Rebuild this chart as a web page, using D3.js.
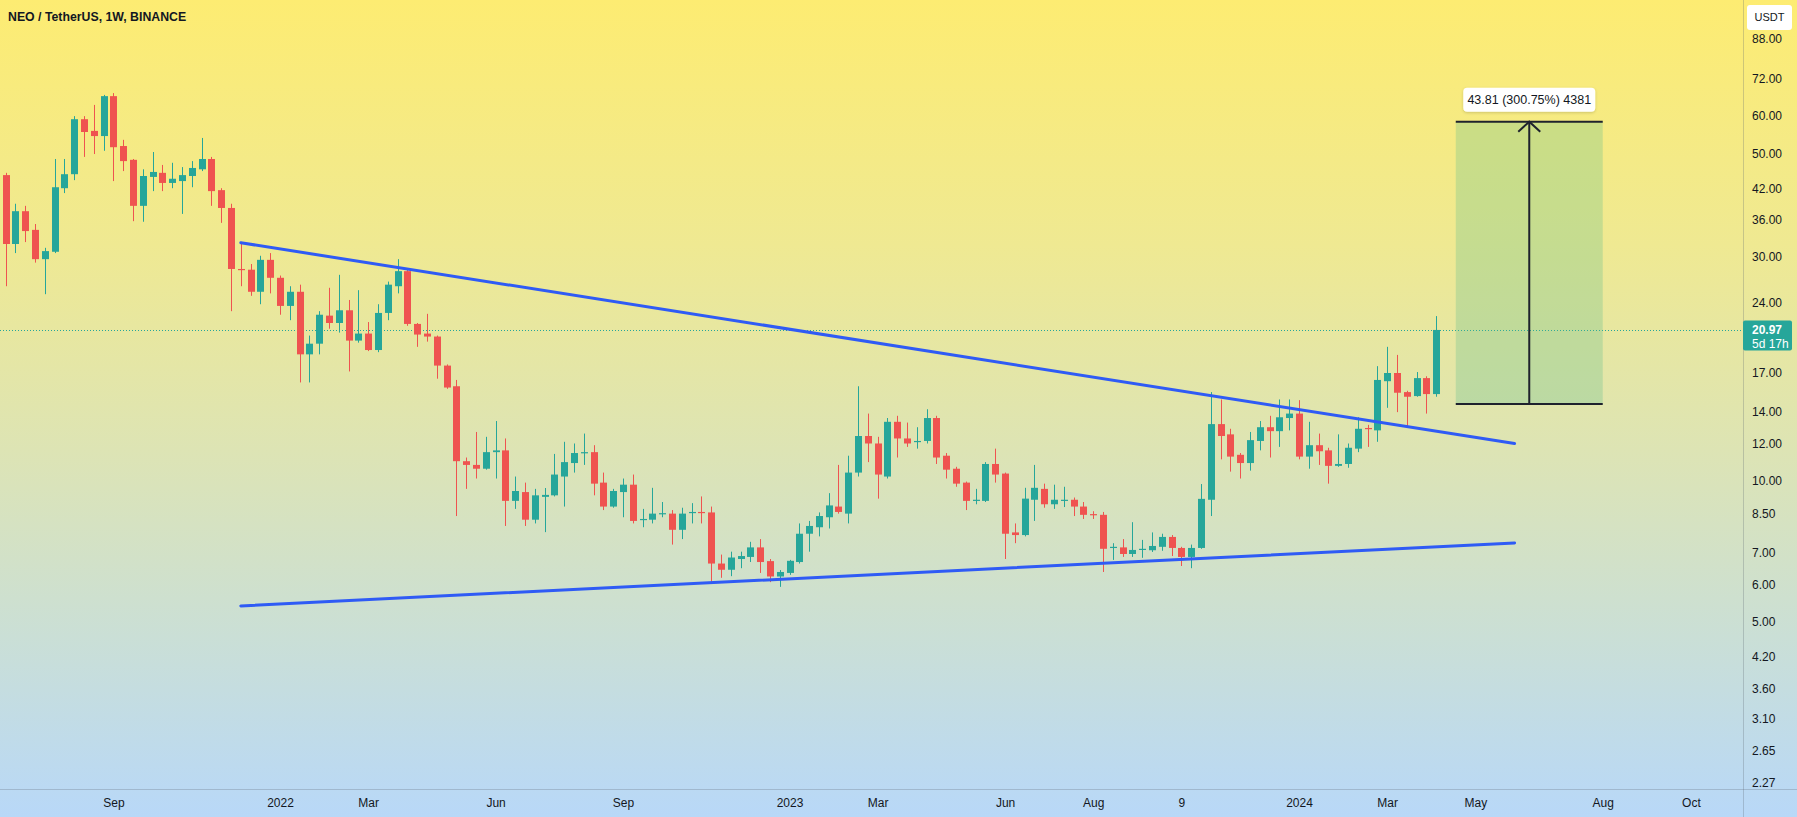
<!DOCTYPE html>
<html><head><meta charset="utf-8">
<script src="https://cdn.jsdelivr.net/npm/d3@7"></script>
<style>html,body{margin:0;padding:0;overflow:hidden;background:#e5e6a6}svg{display:block}</style>
</head><body><svg id="c" width="1797" height="817"></svg>
<script>
// ---- data (weekly NEO/USDT candles, first week 2021-06-21) ----
const firstWeek = "2021-06-21";
const opens = [44.9,32.0,37.6,34.3,29.7,30.8,42.1,45.1,59.1,55.8,
54.4,66.2,51.8,48.4,38.6,44.5,45.4,43.2,43.6,44.7,
46.2,48.6,41.7,38.2,28.3,28.2,25.3,29.6,27.1,23.6,
25.3,18.6,19.6,22.5,21.7,23.1,19.9,20.6,19.0,22.8,
26.0,28.0,21.6,20.6,20.3,17.6,15.9,11.0,10.8,10.6,
11.5,11.6,9.05,9.45,8.25,9.23,9.3,10.2,10.9,11.45,
11.5,9.9,8.8,9.45,9.8,8.24,8.25,8.48,8.5,7.85,
8.52,8.57,8.55,6.65,6.45,6.8,6.87,7.2,6.73,6.24,
6.35,6.7,7.7,7.95,8.35,8.8,8.5,10.4,12.45,12.0,
10.2,13.35,12.3,12.08,12.15,13.6,11.3,10.6,9.9,9.05,
9.05,10.85,10.35,7.75,7.65,9.1,9.6,8.9,9.05,9.1,
8.8,8.48,8.45,7.18,7.2,6.97,7.11,7.1,7.22,7.58,
7.18,6.87,7.18,9.1,13.2,12.55,11.35,10.9,12.15,13.0,
12.75,13.6,13.9,11.25,11.9,11.6,10.75,10.85,11.7,12.95,
12.8,16.3,16.97,15.45,15.15,16.55,15.3];
const highs = [45.4,39.0,38.6,35.3,31.4,48.6,48.6,60.0,60.0,63.4,
66.6,67.2,53.4,48.6,46.2,50.3,47.2,47.7,46.7,48.1,
53.9,49.1,42.1,39.0,32.0,29.0,30.2,30.6,27.4,26.0,
26.2,20.4,23.0,25.8,27.5,24.3,25.5,21.8,23.8,26.6,
29.7,28.2,21.7,22.7,20.4,17.7,16.4,11.2,12.7,12.4,
13.4,12.3,10.2,9.9,9.6,9.64,11.4,12.1,12.0,12.6,
11.9,10.4,9.6,10.1,10.3,8.7,9.65,9.0,8.65,8.75,
8.95,9.25,8.8,6.95,7.05,7.05,7.4,7.5,6.8,6.44,
6.77,8.1,8.2,8.55,9.4,10.8,11.3,15.9,13.9,12.4,
13.6,13.75,13.3,13.0,14.2,13.75,11.45,10.7,9.95,9.6,
10.95,11.7,10.4,8.1,9.65,10.8,9.85,9.8,9.7,9.2,
9.0,8.6,8.57,7.35,7.5,8.15,7.47,7.75,7.7,7.65,
7.22,7.3,9.83,15.45,14.9,12.9,11.45,12.7,13.4,13.75,
14.9,14.9,14.85,13.35,12.6,11.75,12.55,12.0,13.65,13.15,
17.55,19.3,18.55,15.55,17.05,16.7,22.45];
const lows = [26.0,30.6,32.3,29.2,25.0,30.6,41.1,43.8,49.1,49.8,
50.6,43.6,45.8,35.8,35.7,41.5,41.5,42.1,37.1,42.3,
45.8,38.6,35.5,23.0,26.0,24.8,23.8,25.1,22.6,22.0,
16.2,16.2,18.6,21.1,20.7,17.1,19.7,18.9,18.8,22.0,
25.1,21.4,19.3,19.8,16.5,15.7,8.4,9.6,10.1,10.55,
10.1,8.0,8.7,8.0,8.1,7.76,9.25,8.8,10.4,10.8,
9.3,8.65,8.75,8.35,8.1,7.95,8.1,8.35,7.3,7.5,
8.1,8.1,6.05,6.2,6.25,6.5,6.7,6.35,6.07,5.93,
6.29,6.65,7.05,7.6,7.9,8.5,8.1,10.2,10.95,9.15,
10.1,11.2,11.8,11.7,12.0,10.85,10.1,9.7,8.65,8.9,
9.0,9.9,6.8,7.35,7.6,8.2,8.75,8.7,8.78,8.4,
8.28,8.28,6.38,6.77,6.87,6.87,6.84,7.04,7.08,6.9,
6.57,6.5,7.15,8.4,11.1,10.45,10.1,10.5,11.6,11.2,
11.8,12.8,11.1,10.6,10.8,9.85,10.7,10.65,11.5,11.8,
12.1,14.3,14.0,12.95,15.1,13.9,15.1];
const closes = [32.0,37.6,34.1,29.7,30.9,42.3,45.1,59.1,55.5,54.4,
66.2,51.5,48.1,38.6,44.7,45.6,43.2,44.1,44.9,46.5,
48.6,41.5,38.2,28.3,28.2,25.3,29.6,27.1,23.6,25.3,
18.6,19.6,22.6,21.7,23.1,19.9,20.6,19.0,22.8,26.2,
28.0,21.6,20.5,20.3,17.6,15.8,11.0,10.8,10.6,11.5,
11.6,9.05,9.5,8.25,9.3,9.32,10.3,10.95,11.45,11.5,
9.85,8.8,9.5,9.8,8.2,8.28,8.5,8.52,7.85,8.5,
8.57,8.52,6.65,6.45,6.85,6.9,7.2,6.7,6.24,6.38,
6.74,7.7,8.0,8.4,8.85,8.57,10.4,12.45,12.0,10.3,
13.35,12.3,12.0,12.15,13.6,11.2,10.55,9.85,9.05,9.1,
10.85,10.3,7.7,7.65,9.15,9.65,8.9,9.1,9.1,8.8,
8.45,8.44,7.15,7.22,6.97,7.11,7.15,7.25,7.58,7.18,
6.87,7.18,9.14,13.2,12.45,11.25,10.9,12.2,13.0,12.75,
13.65,13.9,11.25,11.9,11.55,10.75,10.85,11.75,12.9,12.88,
16.4,16.97,15.4,15.1,16.55,15.3,20.97];

const yTicks = [88,72,60,50,42,36,30,24,17,14,12,10,8.5,7,6,5,4.2,3.6,3.1,2.65,2.27];
const xTickDates = ["2021-09-06","2022-01-03","2022-03-07","2022-06-06","2022-09-05","2023-01-02","2023-03-06","2023-06-05","2023-08-07","2023-10-09","2024-01-01","2024-03-04","2024-05-06","2024-08-05","2024-10-07"];
const xTickLabels = ["Sep","2022","Mar","Jun","Sep","2023","Mar","Jun","Aug","9","2024","Mar","May","Aug","Oct"];

const upperTrendDates = ["2021-12-06","2024-06-03"];
const upperTrendPrices = [32.2, 12.0];
const lowerTrendDates = ["2021-12-06","2024-06-03"];
const lowerTrendPrices = [5.40, 7.36];

const rangeDates = ["2024-04-22","2024-08-05"];
const rangePrices = [14.567, 58.377];
const rangeLabel = "43.81 (300.75%) 4381";

const lastPrice = 20.97;
const lastPriceCountdown = "5d 17h";
const title = "NEO / TetherUS, 1W, BINANCE";
const currency = "USDT";

// ---- drawing ----
const W=1797, H=817, plotR=1743, plotB=789;
const UP="#26a69a", DOWN="#ef5350", TEXT="#131722";
const FONT="'Liberation Sans', Arial, sans-serif";
const svg=d3.select("#c");
const defs=svg.append("defs");
const grad=defs.append("linearGradient").attr("id","bg").attr("x1",0).attr("y1",0).attr("x2",0).attr("y2",1);
[["0%","#fdec72"],["30%","#efe992"],["55%","#dde4b4"],["78%","#cadfd6"],["100%","#b8d8f8"]].forEach(s=>grad.append("stop").attr("offset",s[0]).attr("stop-color",s[1]));
const sh=defs.append("filter").attr("id","sh").attr("x","-20%").attr("y","-40%").attr("width","140%").attr("height","180%");
sh.append("feDropShadow").attr("dx",0).attr("dy",1).attr("stdDeviation",1.5).attr("flood-color","#000").attr("flood-opacity",0.18);
defs.append("clipPath").attr("id","plot").append("rect").attr("x",0).attr("y",0).attr("width",plotR).attr("height",plotB);

svg.append("rect").attr("width",W).attr("height",H).attr("fill","url(#bg)");

const parse=d3.utcParse("%Y-%m-%d");
const x=d3.scaleUtc().domain([parse("2022-01-03"),parse("2024-01-01")]).range([280,1299]);
const y=d3.scaleLog().domain([2.195,106.2]).range([plotB,0]);

const start=parse(firstWeek);
const dates=d3.utcMonday.range(start, d3.utcMonday.offset(start, opens.length));
const candles=dates.map((d,i)=>({d,o:opens[i],h:highs[i],l:lows[i],c:closes[i]}));

const plot=svg.append("g").attr("clip-path","url(#plot)");

// last price dotted line
plot.append("line").attr("x1",0).attr("x2",plotR)
  .attr("y1",Math.round(y(lastPrice))+0.5).attr("y2",Math.round(y(lastPrice))+0.5)
  .attr("stroke",UP).attr("stroke-width",1).attr("stroke-dasharray","1,2");

// candles
const cg=plot.append("g");
cg.selectAll("line.w").data(candles).join("line").attr("class","w")
  .attr("x1",d=>Math.round(x(d.d))+0.5).attr("x2",d=>Math.round(x(d.d))+0.5)
  .attr("y1",d=>y(d.h)).attr("y2",d=>y(d.l))
  .attr("stroke",d=>d.c>=d.o?UP:DOWN).attr("stroke-width",1);
cg.selectAll("rect.b").data(candles).join("rect").attr("class","b")
  .attr("x",d=>Math.round(x(d.d))-3).attr("width",7)
  .attr("y",d=>y(Math.max(d.o,d.c)))
  .attr("height",d=>Math.max(1.2,Math.abs(y(d.o)-y(d.c))))
  .attr("fill",d=>d.c>=d.o?UP:DOWN);

// trend lines
const line=d3.line().x(d=>x(d[0])).y(d=>y(d[1]));
[[upperTrendDates,upperTrendPrices],[lowerTrendDates,lowerTrendPrices]].forEach(([ds,ps])=>{
  plot.append("path").datum(ds.map((d,i)=>[parse(d),ps[i]])).attr("d",line)
    .attr("fill","none").attr("stroke","#2f5bf5").attr("stroke-width",3).attr("stroke-linecap","round");
});

// price range tool
const rx0=x(parse(rangeDates[0])), rx1=x(parse(rangeDates[1]));
const ry0=y(rangePrices[0]), ry1=y(rangePrices[1]);
const rxm=(rx0+rx1)/2;
plot.append("rect").attr("x",rx0).attr("y",ry1).attr("width",rx1-rx0).attr("height",ry0-ry1)
  .attr("fill","rgba(90,185,140,0.28)");
plot.append("line").attr("x1",rx0).attr("x2",rx1).attr("y1",ry1).attr("y2",ry1).attr("stroke","#1e222d").attr("stroke-width",2);
plot.append("line").attr("x1",rx0).attr("x2",rx1).attr("y1",ry0).attr("y2",ry0).attr("stroke","#1e222d").attr("stroke-width",2);
plot.append("line").attr("x1",rxm).attr("x2",rxm).attr("y1",ry0).attr("y2",ry1).attr("stroke","#1e222d").attr("stroke-width",2);
plot.append("path").attr("d",`M${rxm-11},${ry1+10}L${rxm},${ry1}L${rxm+11},${ry1+10}`)
  .attr("fill","none").attr("stroke","#1e222d").attr("stroke-width",2);
const lbl=plot.append("g").attr("transform",`translate(${rxm},${ry1-22})`);
lbl.append("rect").attr("x",-66).attr("y",-12).attr("width",132).attr("height",24).attr("rx",4)
  .attr("fill","#ffffff").attr("filter","url(#sh)");
lbl.append("text").attr("text-anchor","middle").attr("dy","0.35em").attr("font-family",FONT)
  .attr("font-size",12.5).attr("fill",TEXT).text(rangeLabel);

// axes
svg.append("line").attr("x1",plotR+0.5).attr("x2",plotR+0.5).attr("y1",0).attr("y2",H)
  .attr("stroke","rgba(90,100,110,0.28)");
svg.append("line").attr("x1",0).attr("x2",W).attr("y1",plotB+0.5).attr("y2",plotB+0.5)
  .attr("stroke","rgba(90,100,110,0.28)");

const yAxis=svg.append("g").attr("transform",`translate(${plotR},0)`)
  .call(d3.axisRight(y).tickValues(yTicks).tickFormat(d3.format(".2f")).tickSize(0).tickPadding(9));
yAxis.select(".domain").remove();
yAxis.selectAll("text").attr("font-family",FONT).attr("font-size",12).attr("fill",TEXT);

const xAxis=svg.append("g").attr("transform",`translate(0,${plotB})`)
  .call(d3.axisBottom(x).tickValues(xTickDates.map(parse)).tickFormat((d,i)=>xTickLabels[i]).tickSize(0).tickPadding(9));
xAxis.select(".domain").remove();
xAxis.selectAll("text").attr("font-family",FONT).attr("font-size",12).attr("fill",TEXT);

// currency box
svg.append("rect").attr("x",1747).attr("y",5).attr("width",45).attr("height",25).attr("rx",3).attr("fill","#ffffff");
svg.append("text").attr("x",1769.5).attr("y",17.5).attr("dy","0.35em").attr("text-anchor","middle")
  .attr("font-family",FONT).attr("font-size",11).attr("fill",TEXT).text(currency);

// last price label
const ly=y(lastPrice);
svg.append("rect").attr("x",plotR).attr("y",ly-9.5).attr("width",49).attr("height",30).attr("rx",2).attr("fill",UP);
svg.append("text").attr("x",plotR+9).attr("y",ly).attr("dy","0.35em").attr("font-family",FONT)
  .attr("font-size",12).attr("font-weight","bold").attr("fill","#fff").text(d3.format(".2f")(lastPrice));
svg.append("text").attr("x",plotR+9).attr("y",ly+14).attr("dy","0.35em").attr("font-family",FONT)
  .attr("font-size",12).attr("fill","#fff").text(lastPriceCountdown);

// title
svg.append("text").attr("x",8).attr("y",21).attr("font-family",FONT).attr("font-size",12.3)
  .attr("font-weight","bold").attr("fill",TEXT).text(title);
</script></body></html>
